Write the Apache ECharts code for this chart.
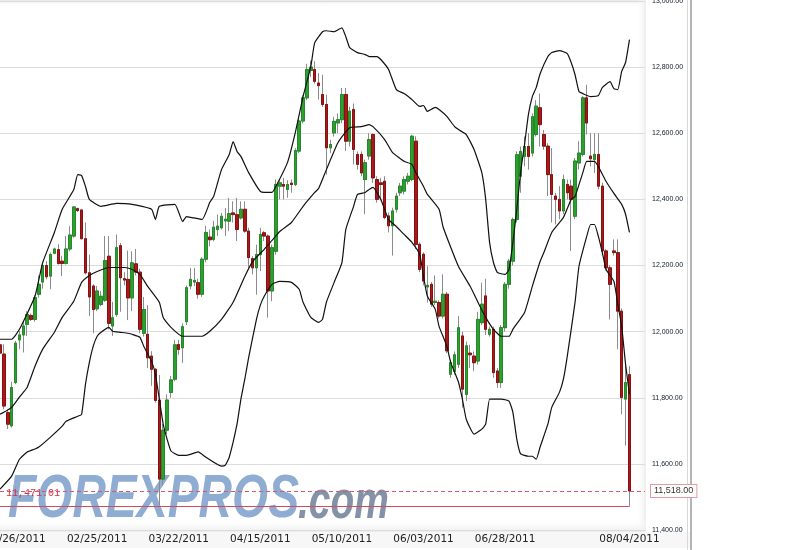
<!DOCTYPE html>
<html><head><meta charset="utf-8">
<script src="https://cdn.jsdelivr.net/npm/echarts@6/dist/echarts.min.js"></script>
<style>html,body{margin:0;padding:0;background:#fff}#c{width:805px;height:550px}</style>
</head><body><div id="c"></div>
<script>
// ---- sessions: Mon–Fri until 02/25/2011, Sun–Fri afterwards; 02/21 closed; a few empty sessions pad the right edge
const firstSession = Date.UTC(2011, 0, 20);
const lastAxisDay = Date.UTC(2011, 7, 9);
const sundaySessionsFrom = Date.UTC(2011, 1, 27);
const closedDays = ['02/21/2011'];
const tickDates = ['01/26/2011','02/25/2011','03/22/2011','04/15/2011','05/10/2011','06/03/2011','06/28/2011','08/04/2011'];

// ---- daily OHLC (163 sessions, 01/20/2011 .. 08/04/2011)
const opens = [11960,11932,11755,11715,11846,11975,11990,12022,12049,12037,12113,12150,12200,12168,12237,12248,12213,12206,12250,12289,12372,12368,12281,12178,12138,12069,12082,12095,12228,12017,12052,12260,12160,12158,12102,12205,12180,11995,11992,11926,11886,11793,11554,11702,11816,11856,11961,11951,12030,12138,12150,12148,12113,12219,12286,12279,12309,12314,12335,12334,12359,12354,12344,12370,12304,12221,12193,12233,12299,12289,12123,12243,12440,12445,12430,12449,12445,12546,12637,12707,12790,12793,12752,12717,12687,12556,12601,12631,12641,12717,12576,12672,12536,12536,12460,12531,12596,12460,12450,12455,12350,12320,12370,12420,12425,12455,12460,12576,12264,12234,12135,12143,12088,12088,12047,12113,11871,11880,11901,11987,11810,11935,11926,11911,12027,12108,11992,12007,11881,11846,12012,12143,12213,12339,12470,12530,12560,12540,12596,12677,12596,12561,12475,12410,12400,12365,12445,12440,12349,12510,12536,12707,12531,12521,12536,12440,12244,12193,12244,12239,12062,11796,11870];
const closes = [11935,11775,11720,11831,11965,11990,12017,12052,12037,12103,12143,12200,12166,12233,12250,12206,12206,12250,12292,12377,12366,12281,12178,12105,12067,12123,12107,12215,12025,12042,12254,12163,12156,12102,12208,12180,12007,12067,11921,11886,11792,11554,11702,11793,11854,11960,11946,12015,12133,12158,12155,12113,12219,12300,12278,12316,12319,12349,12340,12357,12354,12309,12370,12304,12224,12193,12233,12294,12289,12123,12254,12445,12450,12440,12445,12445,12548,12637,12707,12793,12800,12757,12744,12687,12556,12566,12636,12641,12717,12576,12667,12551,12506,12480,12511,12581,12465,12400,12445,12345,12320,12365,12410,12440,12460,12470,12591,12264,12188,12153,12140,12083,12092,12047,12113,11942,11906,11930,12012,11826,11957,11930,11906,12037,12083,12007,12007,11876,11846,12012,12143,12213,12339,12535,12545,12560,12530,12650,12682,12626,12561,12475,12415,12400,12365,12460,12420,12400,12516,12540,12707,12631,12523,12536,12440,12244,12193,12143,12239,12062,11801,11846,11518];
const lows = [11900,11765,11705,11710,11841,11947,11937,11987,12032,12030,12103,12130,12158,12128,12234,12203,12168,12203,12243,12284,12362,12279,12173,12047,11995,12062,12077,12090,12007,11987,12045,12060,12140,12035,12062,12170,11995,11985,11890,11836,11785,11475,11534,11690,11800,11850,11930,11905,12020,12128,12138,12100,12105,12210,12258,12273,12289,12309,12289,12304,12330,12274,12339,12299,12193,12173,12112,12183,12274,12042,12092,12233,12400,12400,12405,12420,12440,12540,12630,12700,12770,12750,12702,12680,12475,12540,12590,12600,12630,12546,12560,12506,12490,12470,12355,12520,12450,12390,12400,12340,12300,12230,12360,12410,12415,12445,12455,12250,12180,12140,12088,12075,12080,12040,12040,11935,11860,11870,11890,11770,11790,11890,11880,11900,12020,11990,11985,11860,11830,11830,12000,12130,12200,12330,12420,12500,12490,12530,12590,12560,12550,12410,12330,12324,12340,12355,12400,12244,12340,12490,12530,12596,12500,12480,12430,12235,12185,12037,12230,11947,11750,11655,11471.01];
const highs = [11985,11962,11765,11848,11972,12002,12032,12062,12055,12110,12170,12205,12213,12239,12254,12264,12229,12289,12319,12380,12375,12370,12330,12233,12143,12138,12123,12289,12289,12090,12294,12268,12180,12245,12243,12250,12190,12105,12080,11941,11890,11869,11720,11810,11866,11975,11975,12025,12140,12193,12193,12160,12225,12320,12309,12335,12354,12359,12374,12404,12394,12404,12394,12394,12314,12228,12263,12314,12304,12294,12263,12460,12460,12465,12458,12460,12555,12645,12715,12810,12820,12818,12782,12777,12717,12580,12650,12660,12737,12737,12680,12690,12545,12545,12520,12600,12600,12470,12465,12470,12360,12375,12420,12450,12470,12480,12595,12591,12270,12240,12198,12150,12170,12095,12173,12120,11915,11940,12047,12000,11970,11960,11940,12060,12148,12160,12015,12015,11890,12020,12150,12220,12345,12545,12560,12590,12600,12660,12700,12720,12610,12570,12555,12420,12440,12475,12460,12460,12525,12576,12712,12747,12600,12600,12600,12450,12250,12200,12279,12279,12070,11900,11896];

// ---- Bollinger bands (20): [session index, value]
const upperBand = [[0,11977],[3,11977],[5,12007],[9,12107],[11,12209],[14,12300],[16,12370],[19,12430],[20,12475],[21,12472],[22,12439],[23,12400],[26,12379],[30,12388],[34,12385],[39,12370],[40,12339],[41,12379],[45,12385],[47,12333],[48,12348],[52,12339],[54,12391],[55,12409],[57,12490],[59,12536],[60,12575],[61,12545],[62,12530],[64,12481],[67,12424],[68,12421],[70,12421],[71,12439],[74,12512],[76,12602],[78,12711],[80,12802],[81,12874],[83,12907],[84,12910],[86,12907],[87,12913],[88,12919],[89,12892],[90,12859],[92,12844],[94,12838],[95,12832],[97,12832],[98,12823],[100,12793],[102,12732],[104,12720],[106,12702],[108,12681],[109,12684],[110,12666],[112,12678],[113,12672],[115,12651],[117,12620],[118,12611],[120,12596],[122,12551],[124,12481],[125,12400],[126,12270],[127,12209],[128,12179],[130,12173],[131,12188],[132,12270],[133,12370],[134,12484],[135,12566],[136,12657],[137,12711],[138,12738],[139,12780],[141,12832],[142,12844],[144,12850],[146,12841],[147,12814],[148,12777],[149,12726],[150,12720],[152,12711],[154,12714],[155,12738],[157,12756],[158,12735],[159,12732],[160,12787],[161,12814],[162,12883]];
const middleBand = [[0,11750],[1,11756],[3,11771],[5,11802],[7,11832],[9,11895],[11,11947],[14,11998],[16,12043],[19,12092],[21,12149],[23,12170],[25,12182],[28,12194],[32,12194],[34,12188],[36,12173],[38,12137],[41,12089],[42,12043],[44,12013],[47,11986],[49,11986],[52,11986],[54,12001],[57,12037],[60,12089],[63,12167],[65,12212],[68,12249],[70,12276],[72,12303],[75,12330],[78,12379],[81,12421],[82,12433],[84,12490],[87,12572],[90,12617],[93,12620],[95,12626],[96,12620],[99,12581],[101,12542],[104,12515],[106,12506],[107,12481],[109,12439],[110,12415],[113,12370],[114,12318],[116,12255],[118,12197],[121,12137],[123,12089],[125,12043],[127,12007],[129,11986],[131,11986],[132,12007],[135,12058],[137,12137],[139,12212],[140,12240],[142,12300],[145,12345],[147,12400],[148,12409],[150,12481],[151,12515],[153,12515],[154,12499],[156,12454],[158,12418],[160,12385],[161,12355],[162,12300]];
const lowerBand = [[0,11524],[3,11563],[5,11614],[7,11636],[9,11645],[10,11651],[13,11681],[16,11714],[17,11729],[20,11744],[21,11750],[22,11841],[23,11907],[24,11956],[25,11986],[26,11998],[28,12013],[29,12001],[31,11998],[33,11995],[34,11992],[36,11983],[37,11956],[39,11910],[40,11871],[41,11796],[42,11720],[43,11675],[44,11639],[46,11626],[48,11626],[51,11636],[53,11620],[57,11593],[58,11596],[59,11620],[61,11720],[62,11796],[63,11856],[64,11922],[66,12037],[67,12080],[68,12107],[70,12143],[72,12152],[75,12149],[77,12128],[78,12089],[80,12043],[82,12028],[83,12037],[84,12089],[86,12149],[88,12209],[89,12309],[91,12379],[92,12415],[94,12421],[95,12430],[96,12436],[98,12400],[99,12370],[100,12339],[102,12318],[104,12294],[106,12270],[108,12234],[109,12167],[110,12107],[112,12068],[113,12016],[115,11956],[116,11907],[118,11847],[119,11796],[120,11735],[122,11690],[124,11705],[125,11720],[126,11796],[127,11796],[129,11796],[131,11790],[132,11756],[133,11675],[134,11630],[136,11623],[137,11623],[138,11614],[139,11651],[141,11720],[142,11771],[144,11817],[145,11856],[146,11926],[148,12089],[149,12197],[151,12288],[152,12324],[153,12324],[154,12288],[155,12240],[156,12188],[158,12152],[159,12083],[160,12016],[161,11901],[162,11811]];

const lastPrice = 11518.00;
const sessionLow = 11471.01;
const yTicks = {min: 11400, max: 13000, step: 200};

// ---- build sessions list
const pad2 = n => (n < 10 ? '0' : '') + n;
const sessions = [];
for (let t = firstSession; t <= lastAxisDay; t += 864e5) {
  const d = new Date(t), wd = d.getUTCDay();
  if (wd === 6) continue;
  if (wd === 0 && t < sundaySessionsFrom) continue;
  const s = pad2(d.getUTCMonth() + 1) + '/' + pad2(d.getUTCDate()) + '/' + d.getUTCFullYear();
  if (closedDays.includes(s)) continue;
  sessions.push(s);
}
const lastIdx = opens.length - 1;

const fmt = v => Number(v).toLocaleString('en-US', {minimumFractionDigits: 2, maximumFractionDigits: 2});
const wickData = opens.map((o, i) => [o, closes[i], lows[i], highs[i]]);
const bodyData = opens.map((o, i) => [o, closes[i], Math.min(o, closes[i]), Math.max(o, closes[i])]);
const toLine = arr => arr.map(([i, v]) => [sessions[i], v]);

const chart = echarts.init(document.getElementById('c'), null, {renderer: 'canvas', width: 805, height: 550});
const bandStyle = {type: 'line', symbol: 'none', smooth: 0.15, z: 5, silent: true,
  lineStyle: {color: '#111', width: 1.2}};

chart.setOption({
  animation: false,
  backgroundColor: '#ffffff',
  grid: {left: 0, right: 160, top: 1, bottom: 20, containLabel: false, outerBoundsMode: 'none'},
  xAxis: {
    type: 'category', data: sessions, boundaryGap: false,
    axisLine: {show: false}, axisTick: {show: false}, splitLine: {show: false},
    axisLabel: {interval: (i, v) => tickDates.includes(v), margin: 4, hideOverlap: false,
      fontFamily: 'DejaVu Sans', fontSize: 10.5, color: '#222'}
  },
  yAxis: {
    type: 'value', position: 'right', min: yTicks.min, max: yTicks.max, interval: yTicks.step,
    axisLine: {show: false}, axisTick: {show: false},
    splitLine: {lineStyle: {color: '#dcdcdc', width: 1}},
    axisLabel: {margin: 7, formatter: fmt, fontFamily: 'Liberation Sans', fontSize: 7,
      color: '#0f1d2b', align: 'left'}
  },
  graphic: [
    {type: 'rect', z: -5, shape: {x: 0, y: 0, width: 645, height: 7},
     style: {fill: new echarts.graphic.LinearGradient(0, 0, 0, 1, [{offset: 0, color: '#e9e9e9'}, {offset: 1, color: 'rgba(255,255,255,0)'}])}},
    {type: 'rect', z: -5, shape: {x: 636, y: 0, width: 10, height: 532},
     style: {fill: new echarts.graphic.LinearGradient(0, 0, 1, 0, [{offset: 0, color: 'rgba(255,255,255,0)'}, {offset: 1, color: '#ededed'}])}},
    {type: 'rect', z: -5, shape: {x: 0, y: 519, width: 646, height: 13},
     style: {fill: new echarts.graphic.LinearGradient(0, 0, 0, 1, [{offset: 0, color: 'rgba(255,255,255,0)'}, {offset: 1, color: '#ececec'}])}},
    {type: 'rect', z: -5, shape: {x: 0, y: 532, width: 690, height: 16}, style: {fill: '#f7f7f7'}},
    {type: 'line', z: -4, shape: {x1: 687.5, y1: 0, x2: 687.5, y2: 550}, style: {stroke: '#d8d8d8', lineWidth: 1}},
    {type: 'line', z: -4, shape: {x1: 691, y1: 0, x2: 691, y2: 550}, style: {stroke: '#b4b4b4', lineWidth: 2}},
    {type: 'text', z: -1, x: 8, y: 470, scaleX: 0.76,
     style: {text: 'FOREXPROS', font: 'italic bold 61px "Liberation Sans"', fill: 'rgba(112,150,198,0.78)', textVerticalAlign: 'top'}},
    {type: 'text', z: -1, x: 298, y: 476, scaleX: 0.72,
     style: {text: '.com', font: 'italic bold 54px "Liberation Sans"', fill: 'rgba(118,134,156,0.9)', textVerticalAlign: 'top'}}
  ],
  series: [
    {type: 'candlestick', name: 'range', data: wickData, barWidth: 3, z: 3, silent: true, clip: false,
     itemStyle: {color: '#8c8c8c', color0: '#8c8c8c', borderColor: '#8c8c8c', borderColor0: '#8c8c8c', borderWidth: 1}},
    {type: 'candlestick', name: 'body', data: bodyData, barWidth: 3, z: 4, silent: true, clip: false,
     itemStyle: {color: '#2c9f2c', color0: '#a51a1a', borderColor: '#23892a', borderColor0: '#8a1010', borderWidth: 1},
     markLine: {
       symbol: 'none', silent: true, animation: false, z: 6,
       data: [
         {yAxis: lastPrice, lineStyle: {type: [4, 3], color: '#e0566c', width: 1},
          label: {show: true, position: 'end', distance: 6, formatter: fmt(lastPrice), color: '#333',
            fontFamily: 'Liberation Sans', fontSize: 9, backgroundColor: '#fff', borderColor: '#e39aa6',
            borderWidth: 1, padding: [2, 3, 1, 3]}},
         [{coord: [sessions[0], sessionLow], lineStyle: {type: 'solid', color: '#d9485c', width: 1},
           label: {show: true, position: 'insideStartTop', distance: [6, 8], formatter: fmt(sessionLow),
             color: '#cf3446', fontFamily: 'Liberation Mono', fontSize: 10}},
          {coord: [sessions[lastIdx], sessionLow]}]
       ]
     }},
    Object.assign({name: 'upper', data: toLine(upperBand)}, bandStyle),
    Object.assign({name: 'middle', data: toLine(middleBand)}, bandStyle),
    Object.assign({name: 'lower', data: toLine(lowerBand)}, bandStyle)
  ]
});
</script></body></html>
